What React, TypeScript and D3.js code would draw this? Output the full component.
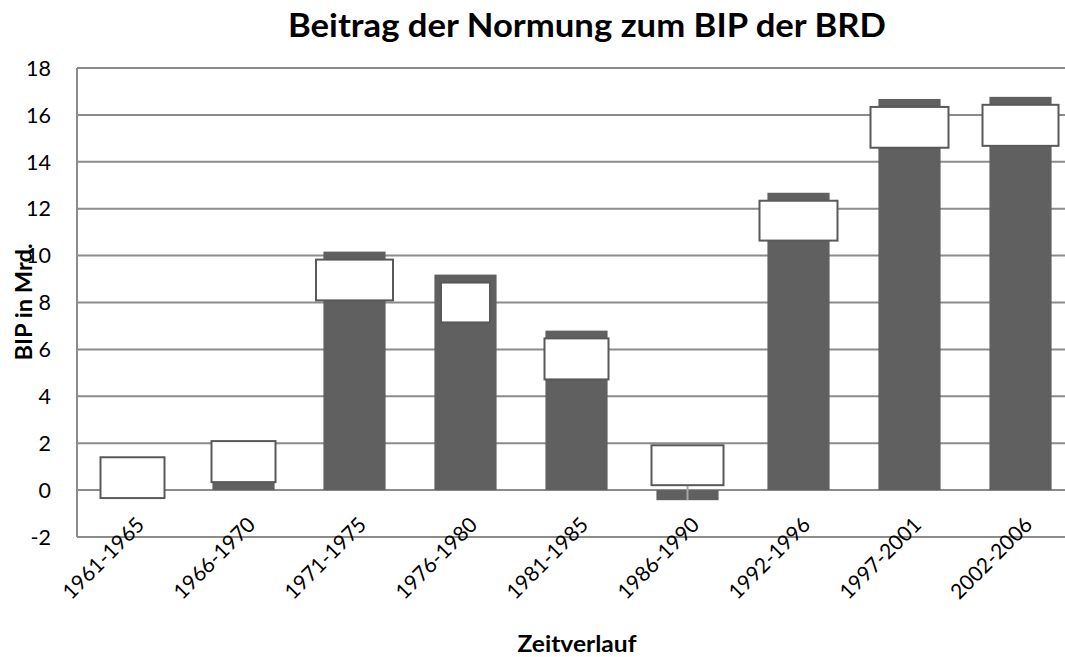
import React, { useEffect } from "react";
import * as d3 from "d3";

const width = 1065,
  height = 657;
const plot = { left: 77, top: 68, bottom: 537, step: 111 };

const categories = [
  "1961-1965",
  "1966-1970",
  "1971-1975",
  "1976-1980",
  "1981-1985",
  "1986-1990",
  "1992-1996",
  "1997-2001",
  "2002-2006",
];
const values = [0, 0.35, 10.17, 9.19, 6.8, -0.43, 12.68, 16.68, 16.77];
// empty data label boxes (value range they cover)
const labelTop = [1.4, 2.09, 9.83, 8.85, 6.47, 1.91, 12.34, 16.34, 16.43];
const labelBottom = [-0.34, 0.34, 8.09, 7.15, 4.72, 0.21, 10.64, 14.6, 14.68];
const labelWidth = [64, 64, 77, 49, 64, 72, 78, 78, 76];
const yTicks = [-2, 0, 2, 4, 6, 8, 10, 12, 14, 16, 18];

const font = "Lato, 'Open Sans', sans-serif";

export default function App() {
  useEffect(() => {
    document.body.style.margin = "0";
  }, []);

  const x = d3
    .scaleBand()
    .domain(categories)
    .range([plot.left, plot.left + plot.step * categories.length])
    .paddingInner(0.44)
    .paddingOuter(0.22);

  const y = d3.scaleLinear().domain([-2, 18]).range([plot.bottom, plot.top]);
  const cx = (c: string) => x(c)! + x.bandwidth() / 2;

  return (
    <svg width={width} height={height} style={{ display: "block" }}>
      <rect width={width} height={height} fill="#fff" />
      <text
        x={587}
        y={37}
        textAnchor="middle"
        fontFamily={font}
        fontWeight="bold"
        fontSize={33}
        textLength={598}
        lengthAdjust="spacingAndGlyphs"
        fill="#000"
      >
        Beitrag der Normung zum BIP der BRD
      </text>

      {/* gridlines */}
      {yTicks.map((t) => (
        <line
          key={t}
          x1={plot.left}
          x2={width}
          y1={y(t)}
          y2={y(t)}
          stroke="#8c8c8c"
          strokeWidth={2}
        />
      ))}
      {yTicks.map((t) => (
        <text
          key={"l" + t}
          x={plot.left - 26}
          y={y(t)}
          dy="0.36em"
          textAnchor="end"
          fontFamily={font}
          fontSize={21.5}
          fill="#000"
        >
          {t}
        </text>
      ))}

      {/* bars */}
      {categories.map((c, i) => (
        <rect
          key={c}
          x={x(c)}
          width={x.bandwidth()}
          y={y(Math.max(0, values[i]))}
          height={Math.abs(y(values[i]) - y(0))}
          fill="#606060"
        />
      ))}

      {/* leader lines */}
      {categories.map((c, i) =>
        values[i] < labelBottom[i] - 0.1 ? (
          <line
            key={"ld" + c}
            x1={cx(c)}
            x2={cx(c)}
            y1={y(labelBottom[i])}
            y2={y(values[i])}
            stroke="#a6a6a6"
            strokeWidth={2}
          />
        ) : null,
      )}

      {/* label boxes */}
      {categories.map((c, i) => (
        <rect
          key={"b" + c}
          x={cx(c) - labelWidth[i] / 2}
          width={labelWidth[i]}
          y={y(labelTop[i])}
          height={y(labelBottom[i]) - y(labelTop[i])}
          fill="#fff"
          stroke="#595959"
          strokeWidth={2}
        />
      ))}

      <line
        x1={plot.left}
        x2={plot.left}
        y1={plot.top}
        y2={plot.bottom}
        stroke="#8c8c8c"
        strokeWidth={2}
      />

      {/* category labels */}
      {categories.map((c) => (
        <text
          key={"c" + c}
          transform={`translate(${cx(c) + 2},${515}) rotate(-45)`}
          textAnchor="end"
          dy="0.75em"
          fontFamily={font}
          fontSize={21}
          fill="#000"
        >
          {c}
        </text>
      ))}

      <text
        x={577}
        y={652}
        textAnchor="middle"
        fontFamily={font}
        fontWeight="bold"
        fontSize={22}
        textLength={119}
        lengthAdjust="spacingAndGlyphs"
        fill="#000"
      >
        Zeitverlauf
      </text>
      <text
        transform={`translate(32,${302}) rotate(-90)`}
        textAnchor="middle"
        fontFamily={font}
        fontWeight="bold"
        fontSize={22}
        textLength={117}
        lengthAdjust="spacingAndGlyphs"
        fill="#000"
      >
        BIP in Mrd.
      </text>
    </svg>
  );
}
